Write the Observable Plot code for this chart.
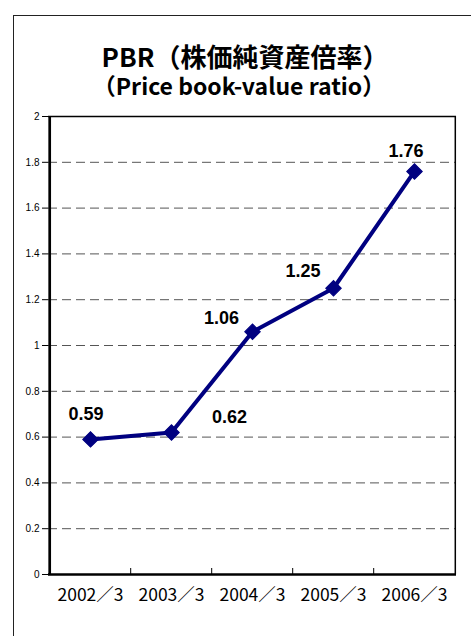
<!DOCTYPE html>
<html><head><meta charset="utf-8">
<script src="https://cdn.jsdelivr.net/npm/d3@7"></script>
<script src="https://cdn.jsdelivr.net/npm/@observablehq/plot@0.6"></script>
<style>
body{margin:0;background:#fff;}
#wrap{position:relative;width:471px;height:636px;overflow:hidden;background:#fff;}
#frame{position:absolute;left:13px;top:15px;width:500px;height:700px;border-left:1.5px solid #222;border-top:1.5px solid #222;}
.t{position:absolute;font-family:"Noto Sans CJK JP";font-weight:bold;white-space:nowrap;text-align:center;color:#000;}
#chart{position:absolute;left:0;top:0;}
</style></head>
<body><div id="wrap">
<div class="t" id="unit" style="left:318px;top:-30px;font-size:24px;line-height:24px;font-weight:normal;color:#333;text-align:left;">（単位：倍）</div>
<div id="frame"></div>
<div id="chart"></div>
<div class="t" style="left:45px;width:400px;top:43px;font-size:26px;line-height:26px;">PBR（株価純資産倍率）</div>
<div class="t" style="left:39px;width:400px;top:74px;font-size:23px;line-height:23px;">（Price book-value ratio）</div>
</div>
<script>
// ---- data ----
const categories = ["2002／3", "2003／3", "2004／3", "2005／3", "2006／3"];
const pbr = [0.59, 0.62, 1.06, 1.25, 1.76];
const pbrLabels = ["0.59", "0.62", "1.06", "1.25", "1.76"];
const yTicks = [0, 0.2, 0.4, 0.6, 0.8, 1, 1.2, 1.4, 1.6, 1.8, 2];
const yTickLabels = ["0", "0.2", "0.4", "0.6", "0.8", "1", "1.2", "1.4", "1.6", "1.8", "2"];

// ---- layout ----
const W = 471, H = 636, mL = 48, mR = 15, mT = 116, mB = 62;
const step = (W - mL - mR) / categories.length;
const labelOffsets = [[-4.5, -25.5], [58, -15], [-31, -14], [-30.5, -17.5], [-8.5, -20.5]];
const navy = "#000080";

const rows = categories.map((c, i) => ({cat: c, v: pbr[i], label: pbrLabels[i], i}));
const gridTicks = yTicks.filter(t => t > 0 && t < 2);

const chart = Plot.plot({
  width: W, height: H,
  marginLeft: mL, marginRight: mR, marginTop: mT, marginBottom: mB,
  style: {background: "transparent", fontFamily: "Liberation Sans, Arial, sans-serif", color: "#000"},
  x: {type: "point", domain: categories, padding: 0.5},
  y: {domain: [0, 2]},
  marks: [
    Plot.ruleY(gridTicks, {stroke: "#555", strokeWidth: 1, strokeDasharray: "9,5"}),
    Plot.ruleY([2], {stroke: "#000", strokeWidth: 1.5}),
    Plot.ruleX([categories[categories.length - 1]], {dx: step / 2, stroke: "#000", strokeWidth: 1.5}),
    Plot.ruleX([categories[0]], {dx: -step / 2, stroke: "#000", strokeWidth: 2.7}),
    Plot.ruleY([0], {stroke: "#000", strokeWidth: 2.7}),
    Plot.ruleX(categories.slice(1), {x: d => d, y1: 0, y2: 0, insetTop: -6, dx: -step / 2, stroke: "#000", strokeWidth: 1}),
    Plot.axisY({ticks: yTicks, tickFormat: d => yTickLabels[yTicks.indexOf(d)], tickSize: 6, tickPadding: 3, fontSize: 10, label: null, stroke: "#000"}),
    Plot.axisX({tickSize: 0, tickPadding: 14, fontSize: 17.5, label: null, fontFamily: "Noto Sans CJK JP"}),
    Plot.line(rows, {x: "cat", y: "v", stroke: navy, strokeWidth: 4, strokeLinejoin: "round"}),
    Plot.dot(rows, {x: "cat", y: "v", symbol: "square", r: 6.2, rotate: 45, fill: navy, stroke: navy, strokeWidth: 1}),
    ...rows.map((d, i) => Plot.text([d], {x: "cat", y: "v", text: "label", dx: labelOffsets[i][0], dy: labelOffsets[i][1], fontSize: 18, fontWeight: "bold", fill: "#000"}))
  ]
});
document.getElementById("chart").appendChild(chart);
</script>
</body></html>
